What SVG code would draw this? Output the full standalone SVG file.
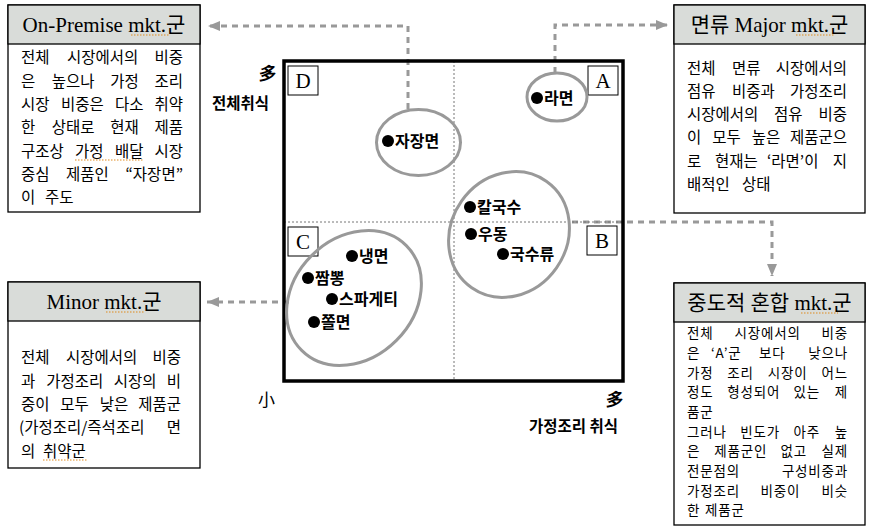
<svg xmlns="http://www.w3.org/2000/svg" width="873" height="531" viewBox="0 0 873 531">
<style>
.box{fill:#fff;stroke:#000;stroke-width:1.3}
.hdr{fill:#d9dcd9;stroke:#000;stroke-width:1.3}
.title{font-family:"Liberation Serif","Noto Sans CJK KR",serif;font-size:21px;text-anchor:middle;fill:#000}
.body{font-family:"Noto Sans CJK KR",sans-serif;font-size:15.5px;fill:#000}
.bs{font-family:"Noto Sans CJK KR",sans-serif;font-size:13.5px;letter-spacing:0.8px;fill:#000}
.lbl{font-family:"Noto Sans CJK KR",sans-serif;font-size:16px;font-weight:bold;fill:#000}
.ax{font-family:"Noto Sans CJK KR",sans-serif;font-size:15.5px;font-weight:bold;fill:#000}
.q{fill:#fff;stroke:#000;stroke-width:1}
.qt{font-family:"Liberation Serif",serif;font-size:21px;text-anchor:middle;fill:#000}
.ell{fill:none;stroke:#999;stroke-width:3}
.conn{fill:none;stroke:#999;stroke-width:3;stroke-dasharray:6 5}
.grid{stroke:#777;stroke-width:1;stroke-dasharray:2 2;fill:none}
.sq{stroke:#e08a1e;stroke-width:1.2;stroke-dasharray:1.5 1.5;fill:none}
.e{text-anchor:end}
</style>
<defs>
<marker id="arr" viewBox="0 0 12 10" refX="12" refY="5" markerWidth="12" markerHeight="10" markerUnits="userSpaceOnUse" orient="auto">
<path d="M0,0 L12,5 L0,10 z" fill="#999"/>
</marker>
</defs>

<g id="connectors">
<path class="conn" d="M408,109 V26 H208" marker-end="url(#arr)"/>
<path class="conn" d="M555,73 V25 H668" marker-end="url(#arr)"/>
<path class="conn" d="M572,222 H772 V276" marker-end="url(#arr)"/>
<path class="conn" d="M289,302 H207" marker-end="url(#arr)"/>
</g>

<g id="chart">
<line class="grid" x1="454" y1="61" x2="454" y2="381"/>
<line class="grid" x1="284" y1="222" x2="623" y2="222"/>
<rect x="284" y="61" width="339" height="320" fill="none" stroke="#000" stroke-width="3.5"/>
<text x="257" y="80" font-family="'Noto Sans CJK KR',sans-serif" font-size="18" font-weight="bold" font-style="italic">多</text>
<text class="ax" x="212" y="109">전체취식</text>
<text x="258" y="406" font-family="'Noto Sans CJK KR',sans-serif" font-size="17">小</text>
<text x="604" y="406" font-family="'Noto Sans CJK KR',sans-serif" font-size="18" font-weight="bold" font-style="italic">多</text>
<text class="ax e" x="618" y="432">가정조리 취식</text>
</g>

<g id="quadrant-D"><rect class="q" x="288" y="66" width="30" height="29"/><text class="qt" x="303" y="88">D</text></g>
<g id="quadrant-A"><rect class="q" x="588" y="66" width="30" height="29"/><text class="qt" x="603" y="88">A</text></g>
<g id="quadrant-C"><rect class="q" x="288" y="227" width="30" height="29"/><text class="qt" x="303" y="249">C</text></g>
<g id="quadrant-B"><rect class="q" x="587" y="226" width="30" height="29"/><text class="qt" x="602" y="248">B</text></g>

<g id="cluster-D">
<ellipse class="ell" cx="418.5" cy="142.5" rx="42" ry="33"/>
<circle cx="388" cy="141" r="6"/><text class="lbl" x="395" y="147">자장면</text>
</g>
<g id="cluster-A">
<ellipse class="ell" cx="557" cy="97" rx="30" ry="24"/>
<circle cx="537" cy="98" r="6"/><text class="lbl" x="544" y="104">라면</text>
</g>
<g id="cluster-B">
<ellipse class="ell" cx="509" cy="234.5" rx="65" ry="58" transform="rotate(-55 509 234.5)"/>
<circle cx="470" cy="207" r="6"/><text class="lbl" x="477" y="213">칼국수</text>
<circle cx="471" cy="234" r="6"/><text class="lbl" x="478" y="240">우동</text>
<circle cx="503" cy="254" r="6"/><text class="lbl" x="510" y="260">국수류</text>
</g>
<g id="cluster-C">
<ellipse class="ell" cx="354" cy="298" rx="74" ry="60" transform="rotate(-45 354 298)"/>
<circle cx="352" cy="256" r="6"/><text class="lbl" x="359" y="262">냉면</text>
<circle cx="308" cy="278" r="6"/><text class="lbl" x="315" y="284">짬뽕</text>
<circle cx="332" cy="299" r="6"/><text class="lbl" x="339" y="305">스파게티</text>
<circle cx="314" cy="322" r="6"/><text class="lbl" x="321" y="328">쫄면</text>
</g>

<g id="box-on-premise">
<rect class="box" x="8" y="5" width="192" height="207"/>
<rect class="hdr" x="8" y="5" width="192" height="39"/>
<text class="title" x="104" y="32">On-Premise mkt.군</text>
<line class="sq" x1="131" y1="35" x2="170" y2="35"/>
<text class="body" y="63"><tspan x="21">전체</tspan><tspan x="67">시장에서의</tspan><tspan class="e" x="183">비중</tspan></text>
<text class="body" y="87"><tspan x="21">은</tspan><tspan x="51.7">높으나</tspan><tspan x="110.3">가정</tspan><tspan class="e" x="183">조리</tspan></text>
<text class="body" y="110"><tspan x="21">시장</tspan><tspan x="61">비중은</tspan><tspan x="115">다소</tspan><tspan class="e" x="183">취약</tspan></text>
<text class="body" y="133"><tspan x="21">한</tspan><tspan x="51.7">상태로</tspan><tspan x="110.3">현재</tspan><tspan class="e" x="183">제품</tspan></text>
<text class="body" y="157"><tspan x="21">구조상</tspan><tspan x="75">가정</tspan><tspan x="115">배달</tspan><tspan class="e" x="183">시장</tspan></text>
<line class="sq" x1="75" y1="160" x2="144" y2="160"/>
<text class="body" y="180"><tspan x="21">중심</tspan><tspan x="66">제품인</tspan><tspan class="e" x="183">“자장면”</tspan></text>
<text class="body" y="203"><tspan x="21">이</tspan><tspan x="45">주도</tspan></text>
</g>

<g id="box-major">
<rect class="box" x="674" y="5" width="191" height="208"/>
<rect class="hdr" x="674" y="5" width="191" height="39"/>
<text class="title" x="769.5" y="32">면류 Major mkt.군</text>
<line class="sq" x1="796" y1="35" x2="834" y2="35"/>
<text class="body" y="74"><tspan x="687">전체</tspan><tspan x="732">면류</tspan><tspan class="e" x="847">시장에서의</tspan></text>
<text class="body" y="97"><tspan x="687">점유</tspan><tspan x="732">비중과</tspan><tspan class="e" x="847">가정조리</tspan></text>
<text class="body" y="120"><tspan x="687">시장에서의</tspan><tspan x="774">점유</tspan><tspan class="e" x="847">비중</tspan></text>
<text class="body" y="143"><tspan x="687">이</tspan><tspan x="712.3">모두</tspan><tspan x="751.7">높은</tspan><tspan class="e" x="847">제품군으</tspan></text>
<text class="body" y="167"><tspan x="687">로</tspan><tspan x="715">현재는</tspan><tspan x="767">‘라면’이</tspan><tspan class="e" x="847">지</tspan></text>
<text class="body" y="190"><tspan x="687">배적인</tspan><tspan x="742">상태</tspan></text>
</g>

<g id="box-minor">
<rect class="box" x="8" y="282" width="192" height="186"/>
<rect class="hdr" x="8" y="282" width="192" height="39"/>
<text class="title" x="104" y="309">Minor mkt.군</text>
<line class="sq" x1="106" y1="312" x2="145" y2="312"/>
<text class="body" y="363"><tspan x="21">전체</tspan><tspan x="66">시장에서의</tspan><tspan class="e" x="181">비중</tspan></text>
<text class="body" y="387"><tspan x="21">과</tspan><tspan x="46.3">가정조리</tspan><tspan x="113.7">시장의</tspan><tspan class="e" x="181">비</tspan></text>
<text class="body" y="410"><tspan x="21">중이</tspan><tspan x="60.3">모두</tspan><tspan x="99.7">낮은</tspan><tspan class="e" x="181">제품군</tspan></text>
<text class="body" y="433"><tspan x="19">(가정조리/즉석조리</tspan><tspan class="e" x="181">면</tspan></text>
<text class="body" y="457"><tspan x="21">의</tspan><tspan x="43">취약군</tspan></text>
<line class="sq" x1="43" y1="460" x2="87" y2="460"/>
</g>

<g id="box-mixed">
<rect class="box" x="674" y="283" width="191" height="242"/>
<rect class="hdr" x="674" y="283" width="191" height="39"/>
<text class="title" x="769.5" y="310">중도적 혼합 mkt.군</text>
<line class="sq" x1="801" y1="313" x2="838" y2="313"/>
<text class="bs" y="338"><tspan x="687">전체</tspan><tspan x="734.5">시장에서의</tspan><tspan class="e" x="848">비중</tspan></text>
<text class="bs" y="358"><tspan x="687">은</tspan><tspan x="711">‘A’군</tspan><tspan x="759">보다</tspan><tspan class="e" x="848">낮으나</tspan></text>
<text class="bs" y="378"><tspan x="687">가정</tspan><tspan x="727.3">조리</tspan><tspan x="767.7">시장이</tspan><tspan class="e" x="848">어느</tspan></text>
<text class="bs" y="397"><tspan x="687">정도</tspan><tspan x="727.3">형성되어</tspan><tspan x="793.6">있는</tspan><tspan class="e" x="848">제</tspan></text>
<text class="bs" y="417"><tspan x="687">품군</tspan></text>
<text class="bs" y="437"><tspan x="687">그러나</tspan><tspan x="740.3">빈도가</tspan><tspan x="793.6">아주</tspan><tspan class="e" x="848">높</tspan></text>
<text class="bs" y="456"><tspan x="687">은</tspan><tspan x="714.3">제품군인</tspan><tspan x="780.6">없고</tspan><tspan class="e" x="848">실제</tspan></text>
<text class="bs" y="476"><tspan x="687">전문점의</tspan><tspan class="e" x="848">구성비중과</tspan></text>
<text class="bs" y="496"><tspan x="687">가정조리</tspan><tspan x="760.5">비중이</tspan><tspan class="e" x="848">비슷</tspan></text>
<text class="bs" y="515"><tspan x="687">한</tspan><tspan x="705">제품군</tspan></text>
</g>
</svg>
